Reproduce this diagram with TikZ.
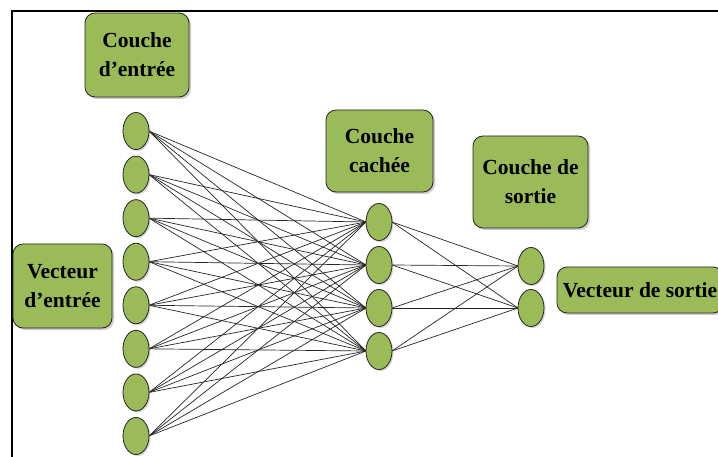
\documentclass[tikz,border=0pt]{standalone}
\usepackage{fontspec}
\setmainfont{Liberation Serif}
\usetikzlibrary{shapes.geometric,shadows}
\definecolor{olivefill}{HTML}{9BBB59}
\definecolor{edgegray}{HTML}{262626}
\tikzset{
  neuron/.style={ellipse, draw=black!85, fill=olivefill, line width=0.8pt,
    minimum width=26pt, minimum height=37pt, inner sep=0pt,
    drop shadow={shadow xshift=1.5pt, shadow yshift=-1.5pt, opacity=0.35}},
  labelbox/.style={draw=black!85, fill=olivefill, rounded corners=10pt, line width=0.8pt,
    font=\bfseries\fontsize{21.5}{29}\selectfont, align=center, inner sep=0pt,
    drop shadow={shadow xshift=2pt, shadow yshift=-2pt, opacity=0.4}},
  link/.style={draw=edgegray, line width=0.7pt}
}
\begin{document}
\begin{tikzpicture}[x=1pt,y=-1pt]
\useasboundingbox (0,0) rectangle (718,457);
\fill[white] (0,0) rectangle (718,457);
% frame
\draw[line width=1.6pt] (12,470) -- (12,11) -- (730,11);
% label boxes
\node[labelbox, minimum width=104pt, minimum height=84pt] (ci) at (137,55) {Couche\\d’entrée};
\node[labelbox, minimum width=99pt, minimum height=84pt] (vi) at (62.5,286) {Vecteur\\d’entrée};
\node[labelbox, minimum width=107pt, minimum height=82pt] (cc) at (379.5,151) {Couche\\cachée};
\node[labelbox, minimum width=115pt, minimum height=92pt] (cs) at (530.5,182) {Couche de\\sortie};
\node[labelbox, minimum width=166pt, minimum height=46pt] (vs) at (640,290) {Vecteur de sortie};
% links first (under neurons)
\foreach \i [evaluate=\i as \y using {131+43.57*(\i-1)}] in {1,...,8} {
  \coordinate (ie\i) at (149,\y);
}
\foreach \j [evaluate=\j as \y using {222+43*(\j-1)}] in {1,...,4} {
  \coordinate (hw\j) at (366,\y);
  \coordinate (he\j) at (392,\y);
}
\foreach \k [evaluate=\k as \y using {266+42*(\k-1)}] in {1,2} {
  \coordinate (ow\k) at (518,\y);
}
\foreach \i in {1,...,8} \foreach \j in {1,...,4} \draw[link] (ie\i) -- (hw\j);
\foreach \j in {1,...,4} \foreach \k in {1,2} \draw[link] (he\j) -- (ow\k);
% neurons
\foreach \i [evaluate=\i as \y using {131+43.57*(\i-1)}] in {1,...,8} {
  \node[neuron] (in\i) at (136,\y) {};
}
\foreach \j [evaluate=\j as \y using {222+43*(\j-1)}] in {1,...,4} {
  \node[neuron] (hid\j) at (379,\y) {};
}
\foreach \k [evaluate=\k as \y using {266+42*(\k-1)}] in {1,2} {
  \node[neuron] (out\k) at (531,\y) {};
}
\end{tikzpicture}
\end{document}
